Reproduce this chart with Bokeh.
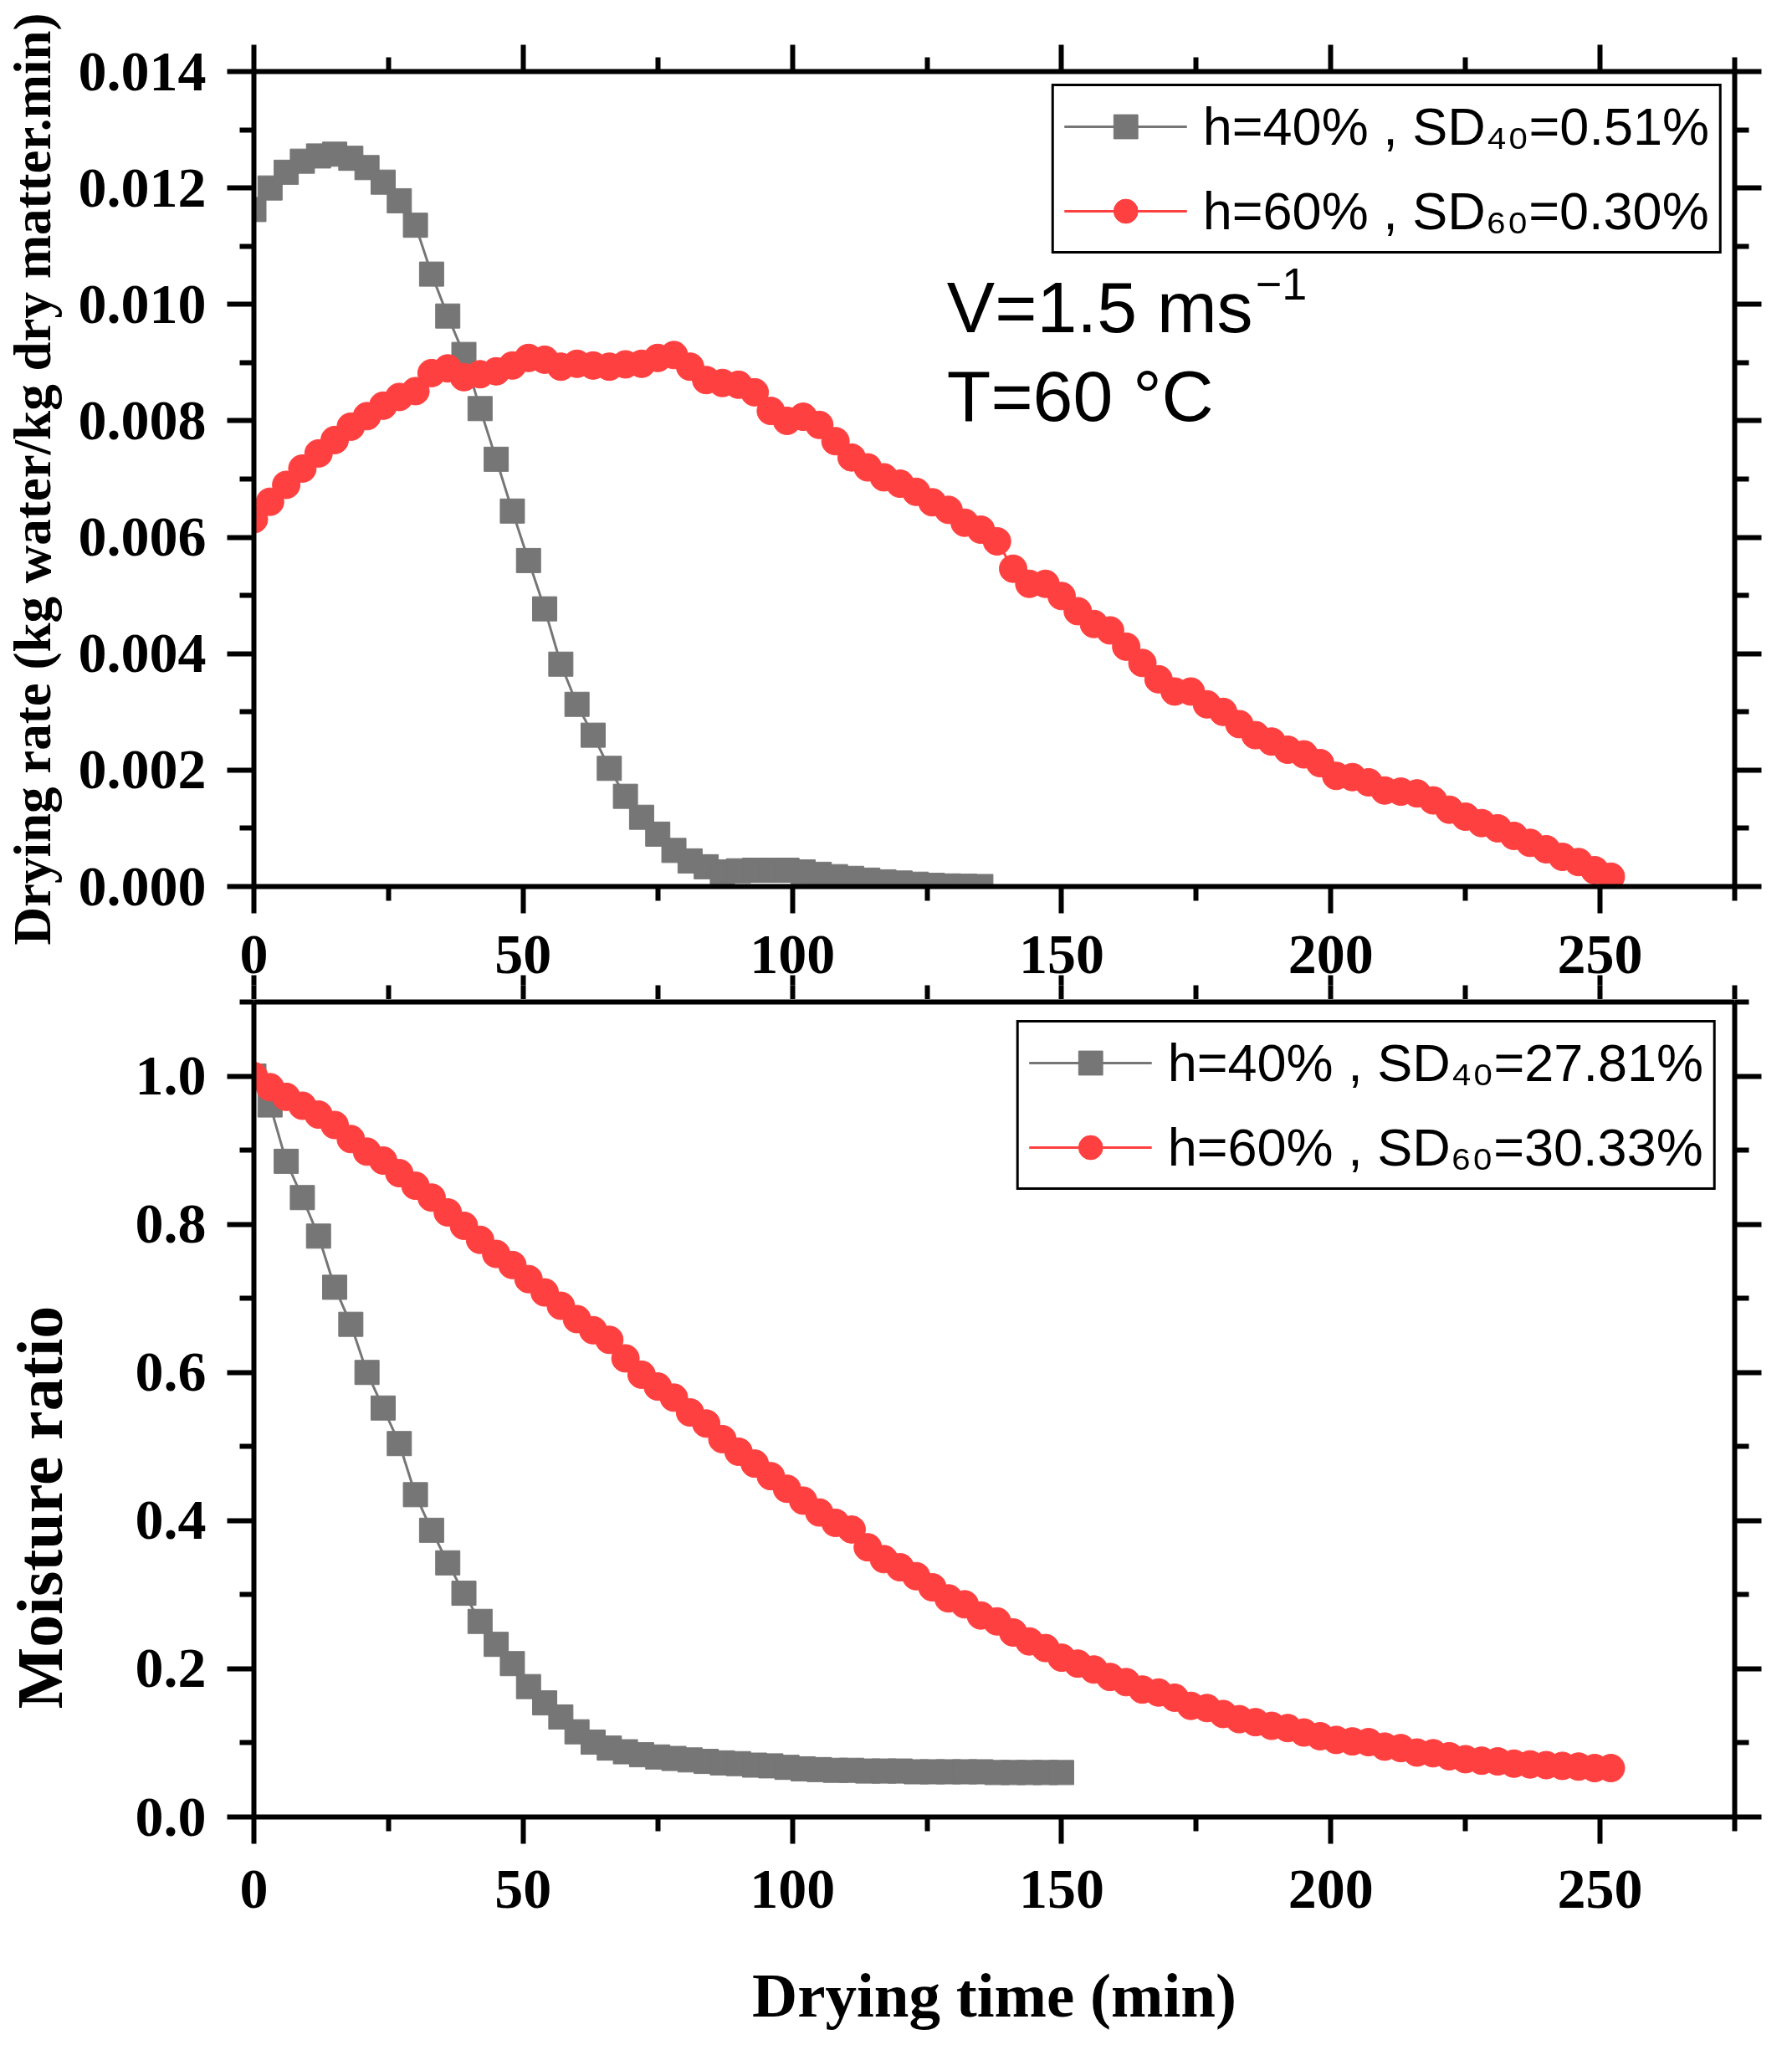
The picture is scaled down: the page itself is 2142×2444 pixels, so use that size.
from bokeh.embed import file_html
from bokeh.layouts import column
from bokeh.models import (CustomJSTickFormatter, FixedTicker, Label, Legend, LegendItem,
                          LinearAxis, NumeralTickFormatter, Range1d)
from bokeh.plotting import figure
from bokeh.resources import INLINE

# ---- data ----
x_ticks = [0, 50, 100, 150, 200, 250]
x_minor = [25, 75, 125, 175, 225, 275]
rate_ticks = [0.000, 0.002, 0.004, 0.006, 0.008, 0.010, 0.012, 0.014]
rate_minor = [0.001, 0.003, 0.005, 0.007, 0.009, 0.011, 0.013]
mr_ticks = [0.0, 0.2, 0.4, 0.6, 0.8, 1.0]
mr_minor = [0.1, 0.3, 0.5, 0.7, 0.9, 1.1]

# drying rate, h=40%
rate_t40 = [0, 3, 6, 9, 12, 15, 18, 21, 24, 27, 30, 33, 36, 39, 42, 45, 48, 51, 54, 57,
            60, 63, 66, 69, 72, 75, 78, 81, 84, 87, 90, 93, 96, 99, 102, 105, 108, 111,
            114, 117, 120, 123, 126, 129, 132, 135]
rate_40 = [0.01163, 0.01200, 0.01227, 0.01246, 0.01255, 0.01258, 0.01251, 0.01235, 0.01210,
           0.01178, 0.01136, 0.01052, 0.00980, 0.00914, 0.00821, 0.00734, 0.00645, 0.00560,
           0.00477, 0.00382, 0.00313, 0.00260, 0.00203, 0.00155, 0.00119, 0.00090, 0.00062,
           0.00044, 0.00034, 0.00025, 0.00027, 0.00028, 0.00028, 0.00028, 0.00025, 0.00021,
           0.00017, 0.00014, 0.00011, 0.00008, 0.00006, 0.00004, 0.00002, 0.00001, 0.000005,
           0.0]

# drying rate, h=60%
rate_t60 = [0, 3, 6, 9, 12, 15, 18, 21, 24, 27, 30, 33, 36, 39, 42, 45, 48, 51, 54, 57,
            60, 63, 66, 69, 72, 75, 78, 81, 84, 87, 90, 93, 96, 99, 102, 105, 108, 111,
            114, 117, 120, 123, 126, 129, 132, 135, 138, 141, 144, 147, 150, 153, 156, 159,
            162, 165, 168, 171, 174, 177, 180, 183, 186, 189, 192, 195, 198, 201, 204, 207,
            210, 213, 216, 219, 222, 225, 228, 231, 234, 237, 240, 243, 246, 249, 252]
rate_60 = [0.00631, 0.00661, 0.00690, 0.00718, 0.00744, 0.00767, 0.00790, 0.00808, 0.00826,
           0.00841, 0.00851, 0.00882, 0.00890, 0.00875, 0.00880, 0.00885, 0.00895, 0.00908,
           0.00905, 0.00893, 0.00898, 0.00895, 0.00893, 0.00897, 0.00898, 0.00908, 0.00913,
           0.00893, 0.00870, 0.00865, 0.00862, 0.00849, 0.00817, 0.00800, 0.00807, 0.00793,
           0.00765, 0.00737, 0.00720, 0.00703, 0.00692, 0.00678, 0.00660, 0.00647, 0.00625,
           0.00613, 0.00593, 0.00546, 0.00520, 0.00520, 0.00499, 0.00473, 0.00451, 0.00440,
           0.00412, 0.00384, 0.00356, 0.00335, 0.00335, 0.00313, 0.00300, 0.00279, 0.00260,
           0.00249, 0.00235, 0.00227, 0.00212, 0.00190, 0.00188, 0.00179, 0.00165, 0.00163,
           0.00160, 0.00148, 0.00132, 0.00120, 0.00109, 0.00100, 0.00087, 0.00075, 0.00064,
           0.00051, 0.00042, 0.00028, 0.00017]

# moisture ratio, h=40%
mr_t40 = [0, 3, 6, 9, 12, 15, 18, 21, 24, 27, 30, 33, 36, 39, 42, 45, 48, 51, 54, 57,
          60, 63, 66, 69, 72, 75, 78, 81, 84, 87, 90, 93, 96, 99, 102, 105, 108, 111,
          114, 117, 120, 123, 126, 129, 132, 135, 138, 141, 144, 147, 150]
mr_40 = [1.0, 0.961, 0.885, 0.836, 0.784, 0.715, 0.665, 0.600, 0.552, 0.504, 0.435, 0.387,
         0.343, 0.302, 0.264, 0.233, 0.207, 0.176, 0.154, 0.135, 0.115, 0.101, 0.093, 0.088,
         0.084, 0.081, 0.079, 0.077, 0.075, 0.073, 0.072, 0.070, 0.069, 0.067, 0.065, 0.064,
         0.063, 0.063, 0.062, 0.062, 0.062, 0.061, 0.061, 0.061, 0.061, 0.061, 0.060, 0.060,
         0.060, 0.060, 0.060]

# moisture ratio, h=60%
mr_t60 = rate_t60
mr_60 = [1.000, 0.985, 0.972, 0.960, 0.948, 0.934, 0.915, 0.898, 0.886, 0.869, 0.852, 0.836,
         0.816, 0.798, 0.779, 0.760, 0.745, 0.726, 0.708, 0.690, 0.672, 0.657, 0.644, 0.619,
         0.597, 0.581, 0.566, 0.546, 0.531, 0.510, 0.493, 0.477, 0.460, 0.443, 0.427, 0.411,
         0.397, 0.388, 0.364, 0.348, 0.337, 0.325, 0.310, 0.295, 0.287, 0.272, 0.264, 0.249,
         0.237, 0.228, 0.215, 0.207, 0.199, 0.189, 0.182, 0.172, 0.168, 0.161, 0.150, 0.147,
         0.139, 0.132, 0.128, 0.123, 0.120, 0.114, 0.109, 0.104, 0.102, 0.101, 0.095, 0.093,
         0.087, 0.086, 0.082, 0.078, 0.076, 0.075, 0.072, 0.071, 0.070, 0.069, 0.068, 0.066,
         0.066]

GRAY = "#767676"
RED = "#FF4040"
SERIF = "Liberation Serif"
SANS = "Liberation Sans"
AXW = 6


def style_axis(ax, ticks, minor, labels=True, fmt=None, major_out=32, minor_out=17, line=True):
    ax.ticker = FixedTicker(ticks=ticks, minor_ticks=minor)
    ax.axis_line_width = AXW
    ax.axis_line_color = "black" if line else None
    ax.major_tick_line_width = AXW
    ax.minor_tick_line_width = AXW
    ax.major_tick_in = 0
    ax.major_tick_out = major_out
    ax.minor_tick_in = 0
    ax.minor_tick_out = minor_out
    if major_out == 0:
        ax.major_tick_line_color = None
    if minor_out == 0:
        ax.minor_tick_line_color = None
    ax.major_label_text_font = SERIF
    ax.major_label_text_font_style = "bold"
    ax.major_label_text_color = "black"
    ax.axis_label_text_font = SERIF
    ax.axis_label_text_font_style = "bold"
    ax.axis_label_text_color = "black"
    if labels:
        ax.major_label_text_font_size = "68px"
        if fmt is not None:
            ax.formatter = fmt
    else:
        ax.formatter = CustomJSTickFormatter(code="return ''")
        ax.major_label_text_font_size = "0px"
        ax.major_label_standoff = 0


def make_panel(y_range, top_border):
    p = figure(frame_width=1770, frame_height=974, x_range=Range1d(0, 275), y_range=y_range,
               output_backend="svg", toolbar_location=None, x_axis_location=None,
               y_axis_location=None, min_border_left=296, min_border_right=40,
               min_border_top=top_border, min_border_bottom=0)
    p.xgrid.visible = False
    p.ygrid.visible = False
    p.outline_line_color = None
    return p


def add_series(p, xs, ys, color, marker, size):
    ln = p.line(xs, ys, line_color=color, line_width=3)
    pts = p.scatter(xs, ys, marker=marker, size=size, fill_color=color, line_color=color)
    return ln, pts


def add_legend(p, items, margin):
    leg = Legend(items=items, location="top_right", margin=margin, padding=12, spacing=29,
                 glyph_width=147, glyph_height=72, label_standoff=19,
                 label_text_font=SANS, label_text_font_size="63px", label_text_color="black",
                 border_line_color="black", border_line_alpha=1.0, border_line_width=3,
                 background_fill_alpha=1.0)
    p.add_layout(leg)


# ---- top panel: drying rate ----
p1 = make_panel(Range1d(0, 0.014), 85)
g1 = add_series(p1, rate_t40, rate_40, GRAY, "square", 29)
r1 = add_series(p1, rate_t60, rate_60, RED, "circle", 33)

left1 = LinearAxis(axis_label="Drying rate (kg water/kg dry matter.min)")
style_axis(left1, rate_ticks, rate_minor, fmt=NumeralTickFormatter(format="0.000"))
left1.major_label_standoff = 25
left1.axis_label_standoff = 17
left1.axis_label_text_font_size = "63px"
p1.add_layout(left1, "left")

bottom1 = LinearAxis()
style_axis(bottom1, x_ticks, x_minor)
bottom1.major_label_standoff = 27
p1.add_layout(bottom1, "below")

# outward ticks of the lower panel's top edge, drawn in the gap below the labels
gap_a = LinearAxis()
style_axis(gap_a, x_ticks, x_minor, labels=False, major_out=12, minor_out=0, line=False)
p1.add_layout(gap_a, "below")
gap_b = LinearAxis()
style_axis(gap_b, x_ticks, x_minor, labels=False, major_out=17, minor_out=17, line=False)
p1.add_layout(gap_b, "below")

top1 = LinearAxis()
style_axis(top1, x_ticks, x_minor, labels=False)
p1.add_layout(top1, "above")
right1 = LinearAxis()
style_axis(right1, rate_ticks, rate_minor, labels=False)
p1.add_layout(right1, "right")

add_legend(p1, [LegendItem(label="h=40% , SD\u2084\u2080=0.51%", renderers=list(g1)),
                LegendItem(label="h=60% , SD\u2086\u2080=0.30%", renderers=list(r1))], 15)

p1.add_layout(Label(x=128.7, y=0.00995, text="V=1.5 ms", text_font=SANS,
                    text_font_size="86px", text_color="black", text_baseline="alphabetic"))
p1.add_layout(Label(x=186.0, y=0.01035, text="\u22121", text_font=SANS,
                    text_font_size="54px", text_color="black", text_baseline="alphabetic"))
p1.add_layout(Label(x=128.7, y=0.00843, text="T=60 \u00b0C", text_font=SANS,
                    text_font_size="86px", text_color="black", text_baseline="alphabetic"))

# ---- bottom panel: moisture ratio ----
p2 = make_panel(Range1d(0, 1.1), 3)
g2 = add_series(p2, mr_t40, mr_40, GRAY, "square", 29)
r2 = add_series(p2, mr_t60, mr_60, RED, "circle", 33)

# the title sits below the frame centre in the reference: pad its far end with no-break spaces
left2 = LinearAxis(axis_label="Moisture ratio" + "\u00a0" * 12)
style_axis(left2, mr_ticks, mr_minor, fmt=NumeralTickFormatter(format="0.0"))
left2.major_label_standoff = 25
left2.axis_label_standoff = 68
left2.axis_label_text_font_size = "78px"
p2.add_layout(left2, "left")

bottom2 = LinearAxis(axis_label="Drying time (min)")
style_axis(bottom2, x_ticks, x_minor)
bottom2.major_label_standoff = 32
bottom2.axis_label_standoff = 60
bottom2.axis_label_text_font_size = "75px"
p2.add_layout(bottom2, "below")

top2 = LinearAxis()
style_axis(top2, x_ticks, x_minor, labels=False, major_out=0, minor_out=0)
p2.add_layout(top2, "above")
right2 = LinearAxis()
style_axis(right2, mr_ticks, mr_minor, labels=False)
p2.add_layout(right2, "right")

add_legend(p2, [LegendItem(label="h=40% , SD\u2084\u2080=27.81%", renderers=list(g2)),
                LegendItem(label="h=60% , SD\u2086\u2080=30.33%", renderers=list(r2))], 22)

layout = column(p1, p2, spacing=0)
open("out.html", "w").write(file_html(layout, INLINE))
